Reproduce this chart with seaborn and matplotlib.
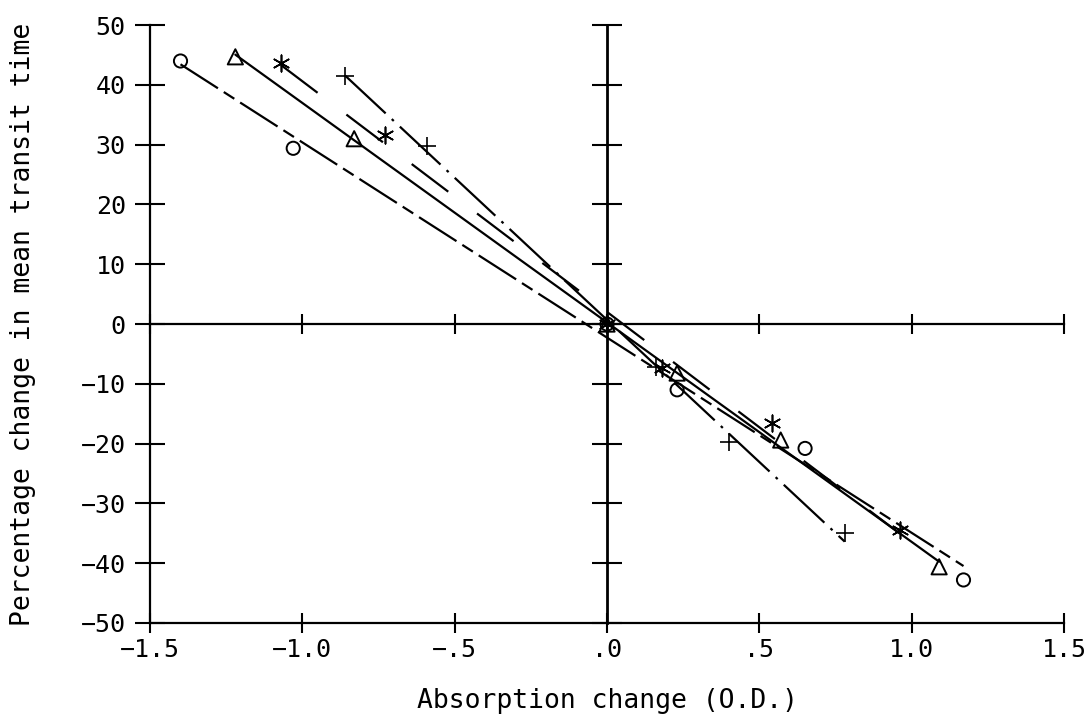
import numpy as np
import matplotlib
matplotlib.use("Agg")
import matplotlib.pyplot as plt
import seaborn as sns

# valores
absorb_o = [-1.40, -1.03, 0.0, 0.23, 0.65, 1.17]
mtt_o = [44.0, 29.4, 0.0, -11.0, -20.8, -42.8]

absorb_tri = [-1.22, -0.83, 0.0, 0.23, 0.57, 1.09]
mtt_tri = [44.7, 31.0, 0.0, -8.2, -19.4, -40.6]

absorb_star = [-1.07, -0.73, 0.0, 0.18, 0.54, 0.96]
mtt_star = [43.6, 31.6, 0.0, -7.4, -16.6, -34.4]

absorb_plus = [-0.86, -0.59, 0.0, 0.16, 0.40, 0.78]
mtt_plus = [41.5, 29.7, 0.0, -7.1, -19.7, -35.0]

xticks = [-1.5, -1.0, -0.5, 0.0, 0.5, 1.0, 1.5]
xticklabels = ["\u22121.5", "\u22121.0", "\u2212.5", ".0", ".5", "1.0", "1.5"]
yticks = [50, 40, 30, 20, 10, 0, -10, -20, -30, -40, -50]
yticklabels = ["50", "40", "30", "20", "10", "0", "\u221210", "\u221220", "\u221230", "\u221240", "\u221250"]

sns.set_style("ticks", {"axes.edgecolor": "black", "text.color": "black",
                        "xtick.color": "black", "ytick.color": "black",
                        "axes.labelcolor": "black"})
plt.rcParams["font.family"] = ["DejaVu Sans Mono", "DejaVu Sans"]
plt.rcParams["lines.scale_dashes"] = False

fig = plt.figure(figsize=(10.92, 7.16), dpi=100)
ax = fig.add_axes([0.1374, 0.1299, 0.837, 0.835])

series = [
    (absorb_o, mtt_o, "o", (0, (32, 5, 9, 5)), 90),
    (absorb_tri, mtt_tri, "^", "-", 120),
    (absorb_star, mtt_star, (6, 2, 0), (0, (33, 26)), 140),
    (absorb_plus, mtt_plus, "+", (0, (40, 6, 2, 6)), 170),
]

for xs, ys, mk, ls, size in series:
    sns.regplot(x=np.array(xs), y=np.array(ys), ax=ax, scatter=False, ci=None,
                truncate=True, color="black", line_kws=dict(lw=1.6, ls=ls))
    if mk in ("o", "^"):
        sns.scatterplot(x=xs, y=ys, ax=ax, marker=mk, s=size, facecolor="none",
                        edgecolor="black", linewidth=1.4, zorder=5)
    else:
        sns.scatterplot(x=xs, y=ys, ax=ax, marker=mk, s=size, color="black",
                        linewidth=1.2, zorder=5)

ax.set_xlim(-1.5, 1.5)
ax.set_ylim(-50, 50)
ax.set_xticks(xticks)
ax.set_xticklabels(xticklabels)
ax.set_yticks(yticks)
ax.set_yticklabels(yticklabels)

for s in ["top", "right"]:
    ax.spines[s].set_visible(False)
for s in ["left", "bottom"]:
    ax.spines[s].set_linewidth(1.6)

ax.tick_params(axis="y", direction="inout", length=21, width=1.5, pad=7, labelsize=18)
ax.tick_params(axis="x", direction="inout", length=14, width=1.5, pad=4, labelsize=18)

ax.set_xlabel("Absorption change (O.D.)", fontsize=19)
ax.set_ylabel("Percentage change in mean transit time", fontsize=19)
ax.xaxis.set_label_coords(0.5, -0.108)
ax.yaxis.set_label_coords(-0.125, 0.5)

# eixos cruzando na origem
ax2 = fig.add_axes(ax.get_position(), sharex=ax, sharey=ax)
ax2.patch.set_visible(False)
for s in ["top", "right"]:
    ax2.spines[s].set_visible(False)
ax2.spines["left"].set_position(("data", 0))
ax2.spines["bottom"].set_position(("data", 0))
ax2.spines["left"].set_linewidth(2.0)
ax2.spines["bottom"].set_linewidth(1.6)
ax2.tick_params(axis="y", direction="inout", length=21, width=1.5, labelleft=False)
ax2.tick_params(axis="x", direction="inout", length=14, width=1.5, labelbottom=False)
ax2.set_xlabel("")
ax2.set_ylabel("")

fig.savefig("out.png", dpi=100)
